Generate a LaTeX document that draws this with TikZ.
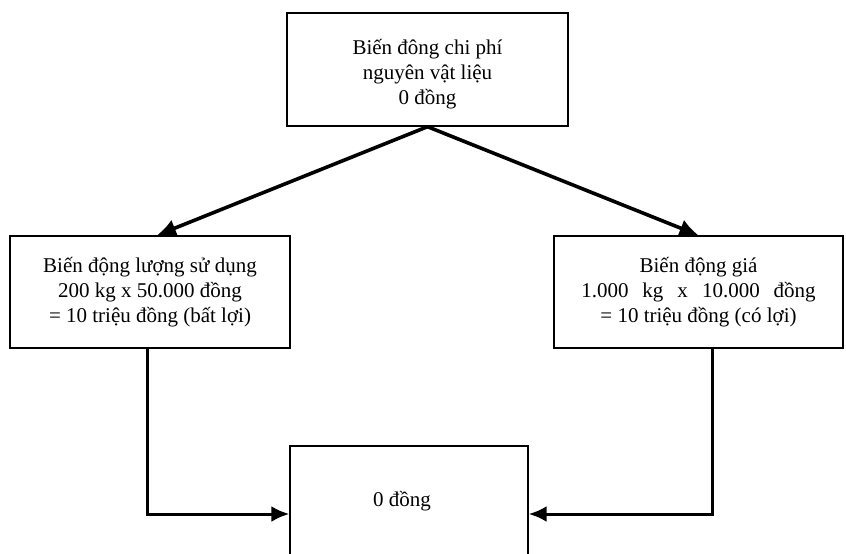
\documentclass[tikz,border=0pt]{standalone}
\usepackage{fontspec}
\setmainfont{Liberation Serif}
\usetikzlibrary{arrows.meta}

\begin{document}
\begin{tikzpicture}[x=1pt,y=-1pt]
\tikzstyle{every node}=[draw, line width=1.4pt, rectangle, align=center, inner sep=0pt,
  font=\fontsize{21}{25}\selectfont]
\tikzstyle{pointer}=[line width=3.6pt, -{Latex[length=19pt,width=18pt]}]
\tikzstyle{elbow}=[line width=3pt, -{Latex[length=18pt,width=16pt]}]
\useasboundingbox (0,0) rectangle (846,554);
\draw (427.5,69.5) node (total) [minimum width=281pt, minimum height=113pt] {\raisebox{-10pt}[0pt][0pt]{\begin{tabular}{@{}c@{}}Biến đông chi phí\\nguyên vật liệu\\0 đồng\end{tabular}}};
\draw (150,292) node (varq) [minimum width=280pt, minimum height=112pt] {Biến động lượng sử dụng\\200 kg x 50.000 đồng\\= 10 triệu đồng (bất lợi)};
\draw (698.5,292) node (varp) [minimum width=289pt, minimum height=112pt] {Biến động giá\\1.000\hspace{14pt}kg\hspace{14pt}x\hspace{14pt}10.000\hspace{14pt}đồng\\= 10 triệu đồng (có lợi)};
\draw (409,501) node (zero) [minimum width=238pt, minimum height=110pt] {\hspace{-14pt}0 đồng};
\draw[pointer] (total.south) -- ([xshift=7pt]varq.north);
\draw[pointer] (total.south) -- (varp.north);
\draw[elbow] ([xshift=-3pt]varq.south) |- ([yshift=-13pt]zero.west);
\draw[elbow] ([xshift=13.5pt]varp.south) |- ([yshift=-13pt]zero.east);
\end{tikzpicture}
\end{document}
